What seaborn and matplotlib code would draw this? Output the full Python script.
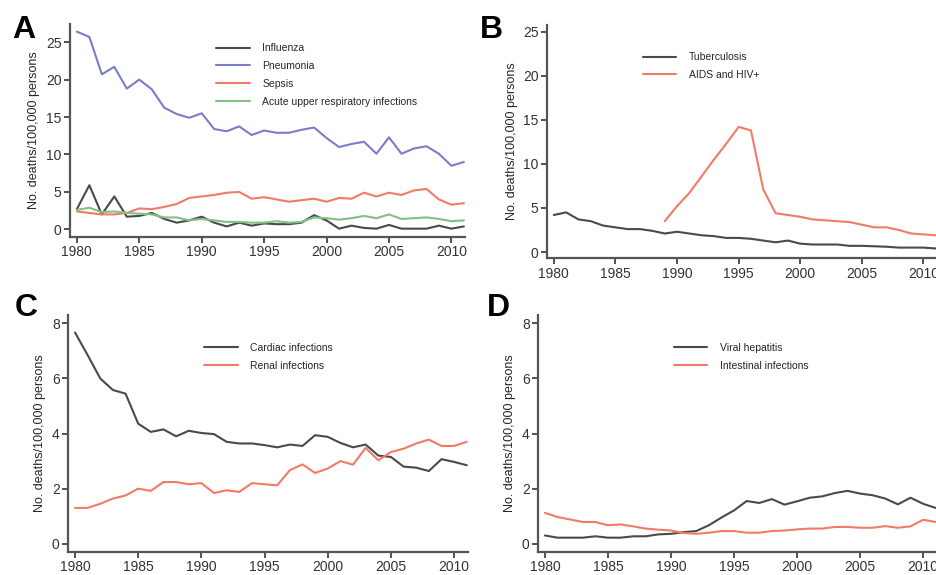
import numpy as np
import pandas as pd
import matplotlib
matplotlib.use("Agg")
import matplotlib.pyplot as plt
import seaborn as sns

years = list(range(1980, 2012))

# Panel A
influenza = [2.7, 5.9, 2.0, 4.4, 1.7, 1.8, 2.2, 1.4, 0.9, 1.2, 1.7, 0.9, 0.4, 0.9, 0.5, 0.8,
             0.7, 0.7, 0.9, 1.9, 1.2, 0.1, 0.5, 0.2, 0.1, 0.6, 0.1, 0.1, 0.1, 0.5, 0.1, 0.4]
pneumonia = [26.4, 25.7, 20.7, 21.7, 18.8, 20.0, 18.7, 16.25, 15.4, 14.9, 15.5, 13.4, 13.1, 13.75, 12.6, 13.2,
             12.9, 12.9, 13.3, 13.6, 12.2, 11.0, 11.4, 11.7, 10.1, 12.3, 10.1, 10.8, 11.1, 10.1, 8.5, 9.0]
sepsis = [2.4, 2.2, 2.0, 2.0, 2.2, 2.8, 2.7, 3.0, 3.4, 4.2, 4.4, 4.6, 4.9, 5.0, 4.1, 4.3,
          4.0, 3.7, 3.9, 4.1, 3.7, 4.2, 4.1, 4.9, 4.4, 4.9, 4.6, 5.2, 5.4, 4.0, 3.3, 3.5]
acute_upper_resp = [2.6, 2.9, 2.3, 2.4, 2.2, 2.1, 2.0, 1.6, 1.6, 1.2, 1.4, 1.2, 1.0, 1.0, 0.9, 0.9,
                    1.1, 0.9, 1.0, 1.6, 1.5, 1.3, 1.5, 1.8, 1.5, 2.0, 1.4, 1.5, 1.6, 1.4, 1.1, 1.2]

# Panel B
tuberculosis = [4.2, 4.5, 3.7, 3.5, 3.0, 2.8, 2.6, 2.6, 2.4, 2.1, 2.3, 2.1, 1.9, 1.8, 1.6, 1.6,
                1.5, 1.3, 1.1, 1.3, 0.95, 0.85, 0.85, 0.85, 0.7, 0.7, 0.65, 0.6, 0.5, 0.5, 0.5, 0.4]
aids_hiv = [np.nan] * 9 + [3.5, 5.2, 6.7, 8.6, 10.5, 12.3, 14.2, 13.8, 7.1, 4.4, 4.2, 4.0,
                           3.7, 3.6, 3.5, 3.4, 3.1, 2.8, 2.8, 2.5, 2.1, 2.0, 1.9]

# Panel C
cardiac = [7.67, 6.85, 6.0, 5.58, 5.45, 4.36, 4.06, 4.15, 3.9, 4.1, 4.02, 3.98, 3.7, 3.64, 3.64, 3.58,
           3.5, 3.6, 3.55, 3.94, 3.88, 3.66, 3.5, 3.6, 3.2, 3.15, 2.8, 2.76, 2.64, 3.07, 2.97, 2.85]
renal = [1.3, 1.3, 1.45, 1.64, 1.75, 2.0, 1.92, 2.24, 2.24, 2.16, 2.2, 1.84, 1.94, 1.88, 2.2, 2.16,
         2.12, 2.67, 2.88, 2.57, 2.73, 3.0, 2.87, 3.48, 3.03, 3.33, 3.45, 3.64, 3.78, 3.55, 3.55, 3.7]

# Panel D
viral_hepatitis = [0.3, 0.22, 0.22, 0.22, 0.27, 0.22, 0.22, 0.27, 0.27, 0.34, 0.36, 0.42, 0.46, 0.67, 0.95, 1.21,
                   1.55, 1.48, 1.62, 1.42, 1.54, 1.67, 1.72, 1.84, 1.92, 1.82, 1.76, 1.64, 1.43, 1.67, 1.45, 1.3]
intestinal = [1.12, 0.97, 0.88, 0.79, 0.79, 0.67, 0.7, 0.63, 0.55, 0.51, 0.48, 0.39, 0.36, 0.4, 0.46, 0.46,
              0.4, 0.4, 0.46, 0.48, 0.52, 0.55, 0.55, 0.61, 0.61, 0.58, 0.58, 0.64, 0.58, 0.63, 0.87, 0.79]

GRAY = "#4a4a4a"
BLUE = "#7a7ccc"
SALMON = "#f27a68"
GREEN = "#84c084"
SPINE = "#555555"

sns.set_theme(style="ticks")
plt.rcParams["font.family"] = ["Liberation Sans", "DejaVu Sans"]

fig = plt.figure(figsize=(9.37, 5.75), dpi=100)

# axes rectangles (fig fraction): left, bottom, width, height
ax_a = fig.add_axes([0.0747, 0.588, 0.4217, 0.370])
ax_b = fig.add_axes([0.5838, 0.551, 0.4162, 0.406])
ax_c = fig.add_axes([0.0726, 0.040, 0.4269, 0.412])
ax_d = fig.add_axes([0.5742, 0.040, 0.4258, 0.412])

panels = [
    (ax_a, "A", (0.013, 0.974), {"Influenza": influenza, "Pneumonia": pneumonia, "Sepsis": sepsis,
                                 "Acute upper respiratory infections": acute_upper_resp},
     [GRAY, BLUE, SALMON, GREEN], (-1.0, 27.4), [0, 5, 10, 15, 20, 25], (0.36, 0.93)),
    (ax_b, "B", (0.512, 0.974), {"Tuberculosis": tuberculosis, "AIDS and HIV+": aids_hiv},
     [GRAY, SALMON], (-0.7, 25.8), [0, 5, 10, 15, 20, 25], (0.235, 0.90)),
    (ax_c, "C", (0.016, 0.490), {"Cardiac infections": cardiac, "Renal infections": renal},
     [GRAY, SALMON], (-0.3, 8.3), [0, 2, 4, 6, 8], (0.33, 0.90)),
    (ax_d, "D", (0.520, 0.490), {"Viral hepatitis": viral_hepatitis, "Intestinal infections": intestinal},
     [GRAY, SALMON], (-0.3, 8.3), [0, 2, 4, 6, 8], (0.33, 0.90)),
]

for ax, letter, letter_pos, series, colors, ylim, yticks, leg_pos in panels:
    df = pd.DataFrame({"year": years, **series}).melt(id_vars="year", var_name="cause", value_name="rate")
    sns.lineplot(data=df, x="year", y="rate", hue="cause", hue_order=list(series.keys()),
                 palette=colors, linewidth=1.5, ax=ax)
    ax.set_xlim(1979.45, 2011.1)
    ax.set_ylim(*ylim)
    ax.set_xticks([1980, 1985, 1990, 1995, 2000, 2005, 2010])
    ax.set_yticks(yticks)
    ax.set_xlabel("")
    ax.set_ylabel("No. deaths/100,000 persons", fontsize=9, labelpad=4)
    sns.despine(ax=ax)
    for side in ["left", "bottom"]:
        ax.spines[side].set_color(SPINE)
        ax.spines[side].set_linewidth(1.6)
    ax.tick_params(axis="both", labelsize=10, colors="#333333", length=4, width=1.2, pad=2)
    leg = ax.legend(loc="upper left", bbox_to_anchor=leg_pos, frameon=False, fontsize=7.5,
                    handlelength=3.2, handletextpad=1.2, labelspacing=0.75, borderaxespad=0)
    for line in leg.get_lines():
        line.set_linewidth(1.5)
    fig.text(letter_pos[0], letter_pos[1], letter, fontsize=23, fontweight="heavy",
             ha="left", va="top", color="black")

fig.savefig("out.png", dpi=100)
